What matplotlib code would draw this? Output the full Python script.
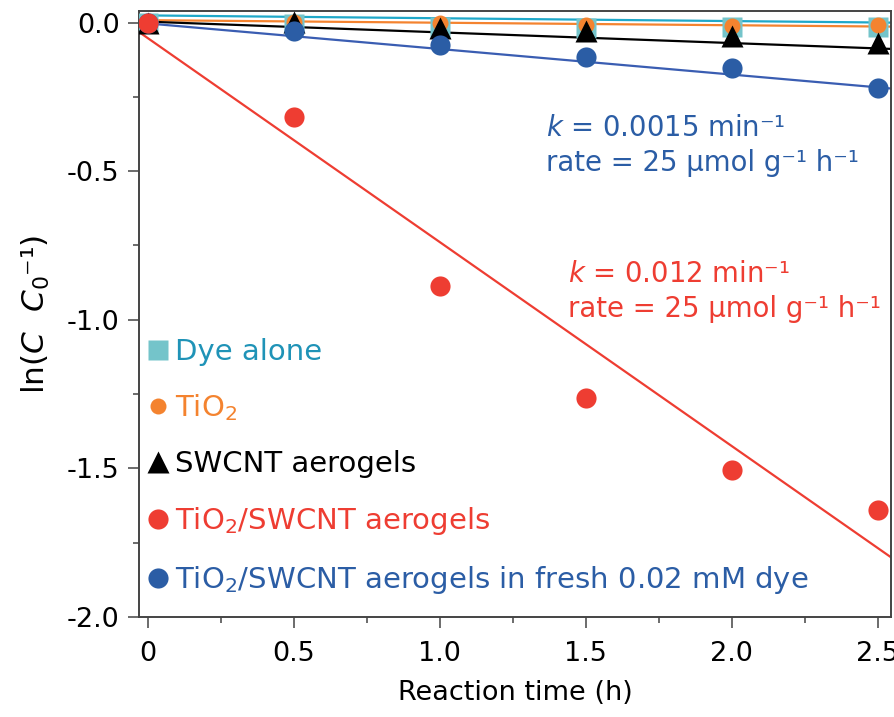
import numpy as np
import matplotlib
matplotlib.use("Agg")
import matplotlib.pyplot as plt
from matplotlib.ticker import FixedLocator, FixedFormatter, MultipleLocator

# ----------------------------
# Data
# ----------------------------
time_h = [0.0, 0.5, 1.0, 1.5, 2.0, 2.5]

dye_alone = [0.0, -0.004, -0.015, -0.019, -0.016, -0.016]
tio2 = [0.0, 0.002, -0.002, -0.008, -0.010, -0.008]
swcnt = [0.0, 0.003, -0.019, -0.030, -0.045, -0.070]
tio2_swcnt = [0.0, -0.317, -0.886, -1.264, -1.506, -1.640]
tio2_swcnt_fresh = [0.0, -0.027, -0.075, -0.117, -0.153, -0.220]

# linear fits drawn in the figure: (intercept, slope)
fit_dye = (0.024, -0.0095)
fit_tio2 = (0.008, -0.0085)
fit_swcnt = (0.003, -0.036)
fit_tio2_swcnt = (-0.053, -0.686)
fit_fresh = (-0.003, -0.086)

labels = [
    "Dye alone",
    "TiO$_2$",
    "SWCNT aerogels",
    "TiO$_2$/SWCNT aerogels",
    "TiO$_2$/SWCNT aerogels in fresh 0.02 mM dye",
]

x_ticks = [0.0, 0.5, 1.0, 1.5, 2.0, 2.5]
x_ticklabels = ["0", "0.5", "1.0", "1.5", "2.0", "2.5"]
y_ticks = [0.0, -0.5, -1.0, -1.5, -2.0]
y_ticklabels = ["0.0", "-0.5", "-1.0", "-1.5", "-2.0"]

# ----------------------------
# Style
# ----------------------------
plt.rcParams["font.family"] = ["DejaVu Sans"]
plt.rcParams["mathtext.fontset"] = "dejavusans"

C_CYAN_FACE = "#74C4CA"
C_CYAN_LINE = "#1FA8C9"
C_CYAN_TEXT = "#1F93B7"
C_ORANGE = "#F4832F"
C_BLACK = "#000000"
C_RED = "#EE3D32"
C_BLUE = "#2B5DA5"
C_BLUE_LINE = "#3A5DB2"
SPINE = "#444444"

fig = plt.figure(figsize=(8.94, 7.17), dpi=100)
ax = fig.add_axes([0.1555, 0.1395, 0.841, 0.8452])

xlim = (-0.031, 2.545)
ylim = (-2.0, 0.039)
xx = np.array(xlim)

# fit lines (span the whole axes)
for (b, m), col in [
    (fit_dye, C_CYAN_LINE),
    (fit_tio2, C_ORANGE),
    (fit_swcnt, C_BLACK),
    (fit_fresh, C_BLUE_LINE),
    (fit_tio2_swcnt, C_RED),
]:
    ax.plot(xx, b + m * xx, color=col, lw=1.6, zorder=2)

# markers
h_dye, = ax.plot(time_h, dye_alone, ls="none", marker="s", ms=15,
                 mfc=C_CYAN_FACE, mec="none", zorder=3)
h_tio2, = ax.plot(time_h, tio2, ls="none", marker="o", ms=11.5,
                  mfc=C_ORANGE, mec="none", zorder=4)
h_sw, = ax.plot(time_h, swcnt, ls="none", marker="^", ms=15.5,
                mfc=C_BLACK, mec="none", zorder=5)
h_fresh, = ax.plot(time_h, tio2_swcnt_fresh, ls="none", marker="o", ms=14.5,
                   mfc=C_BLUE, mec="none", zorder=6)
h_red, = ax.plot(time_h, tio2_swcnt, ls="none", marker="o", ms=14.5,
                 mfc=C_RED, mec="none", zorder=7)

ax.set_xlim(*xlim)
ax.set_ylim(*ylim)

ax.xaxis.set_major_locator(FixedLocator(x_ticks))
ax.xaxis.set_major_formatter(FixedFormatter(x_ticklabels))
ax.xaxis.set_minor_locator(MultipleLocator(0.25))
ax.yaxis.set_major_locator(FixedLocator(y_ticks))
ax.yaxis.set_major_formatter(FixedFormatter(y_ticklabels))
ax.yaxis.set_minor_locator(MultipleLocator(0.25))

ax.tick_params(which="both", direction="out", color=SPINE, width=1.1,
               labelsize=19.5, top=False, right=False)
ax.tick_params(which="major", length=8)
ax.tick_params(which="minor", length=4.5)
ax.tick_params(axis="y", pad=6)
ax.tick_params(axis="x", pad=9)
for s in ax.spines.values():
    s.set_color(SPINE)
    s.set_linewidth(1.4)

ax.set_xlabel("Reaction time (h)", fontsize=19.5, labelpad=10)
ax.set_ylabel("ln($C$  $C_0$\u207b\u00b9)", fontsize=22.5, labelpad=11)

# legend
leg = ax.legend(
    [h_dye, h_tio2, h_sw, h_red, h_fresh], labels,
    loc="upper left", bbox_to_anchor=(-0.008, 0.48),
    frameon=False, numpoints=1, fontsize=21,
    handlelength=0.9, handletextpad=0.15, labelspacing=0.92,
    borderaxespad=0.0,
    labelcolor=[C_CYAN_TEXT, C_ORANGE, C_BLACK, C_RED, C_BLUE],
)

# rate annotations
ax.text(1.365, -0.50, "$k$ = 0.0015 min\u207b\u00b9\nrate = 25 \u03bcmol g\u207b\u00b9 h\u207b\u00b9",
        color=C_BLUE, fontsize=19.8, linespacing=1.32, va="baseline", ha="left")
ax.text(1.44, -0.99, "$k$ = 0.012 min\u207b\u00b9\nrate = 25 \u03bcmol g\u207b\u00b9 h\u207b\u00b9",
        color=C_RED, fontsize=19.8, linespacing=1.32, va="baseline", ha="left")

fig.savefig("out.png", dpi=100)
